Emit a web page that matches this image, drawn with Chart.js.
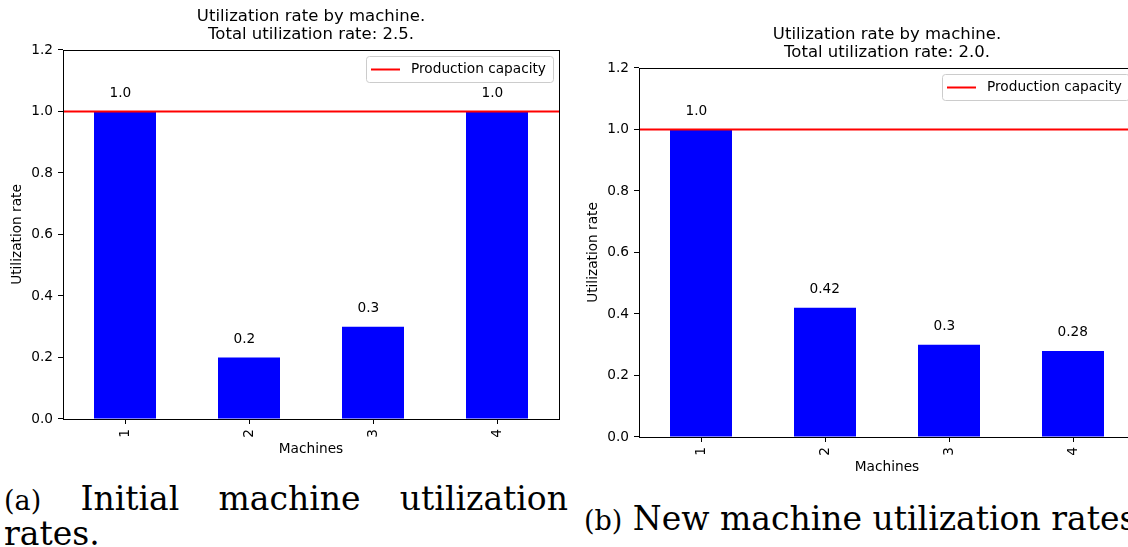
<!DOCTYPE html>
<html>
  <head>
    <title>Machine utilization rates</title>
    <script src="https://cdn.jsdelivr.net/npm/chart.js"></script>
    <style>
      html, body { margin: 0; padding: 0; background: #fff; overflow: hidden; width: 1128px; height: 547px; }
      canvas { position: absolute; }
      #chartA { left: 0; top: 0; }
      #chartB { left: 576px; top: 18px; }
      .caption { position: absolute; font-family: 'DejaVu Serif', serif; font-size: 33px; line-height: 33px; color: #000; }
      .caption span { font-size: 27px; }
      #capA { left: 4px; top: 482px; width: 564px; text-align: justify; }
      #capB { left: 584px; top: 502px; white-space: nowrap; }
    </style>
  </head>
  <body>
    <canvas id="chartA" width="570" height="460"></canvas>
    <canvas id="chartB" width="570" height="460"></canvas>
    <div id="capA" class="caption"><span>(a)</span> Initial machine utilization rates.</div>
    <div id="capB" class="caption"><span>(b)</span> New machine utilization rates</div>

    <script>
      // data
      var machines = ['1', '2', '3', '4'];
      var initialRates = [1.0, 0.2, 0.3, 1.0];
      var newRates = [1.0, 0.42, 0.3, 0.28];
      var capacity = 1.0;
      var yTicks = [0.0, 0.2, 0.4, 0.6, 0.8, 1.0, 1.2];
      var titleA = ['Utilization rate by machine.', 'Total utilization rate: 2.5.'];
      var titleB = ['Utilization rate by machine.', 'Total utilization rate: 2.0.'];

      Chart.defaults.font.family = 'DejaVu Sans';
      Chart.defaults.font.size = 13.7;
      Chart.defaults.color = '#000';

      // value text above each bar
      var barLabels = {
        id: 'barLabels',
        afterDatasetsDraw: function (chart) {
          var ctx = chart.ctx;
          var y = chart.scales.y;
          var meta = chart.getDatasetMeta(1);
          var values = chart.data.datasets[1].data;
          ctx.save();
          ctx.font = '13.7px "DejaVu Sans"';
          ctx.fillStyle = '#000';
          ctx.textAlign = 'left';
          ctx.textBaseline = 'alphabetic';
          meta.data.forEach(function (bar, i) {
            var v = values[i];
            var txt = Number.isInteger(v) ? v.toFixed(1) : String(v);
            ctx.fillText(txt, bar.x - bar.width / 4, y.getPixelForValue(v + 0.047));
          });
          ctx.restore();
        }
      };

      // axes frame + boxed legend in the upper right corner
      var frameAndLegend = {
        id: 'frameAndLegend',
        afterDraw: function (chart) {
          var ctx = chart.ctx;
          var a = chart.chartArea;
          ctx.save();
          ctx.strokeStyle = '#000';
          ctx.lineWidth = 1;
          ctx.strokeRect(Math.round(a.left) + 0.5, Math.round(a.top) + 0.5,
            Math.round(a.right - a.left), Math.round(a.bottom - a.top));

          var ds = chart.data.datasets[0];
          ctx.font = '13.7px "DejaVu Sans"';
          var tw = ctx.measureText(ds.label).width;
          var right = Math.round(a.right) - 6;
          var top = Math.round(a.top) + 6;
          var h = 26;
          var left = Math.round(right - tw - 52);
          ctx.fillStyle = 'rgba(255,255,255,0.8)';
          ctx.strokeStyle = '#cccccc';
          ctx.beginPath();
          ctx.roundRect(left + 0.5, top + 0.5, right - left, h, 3);
          ctx.fill();
          ctx.stroke();

          ctx.strokeStyle = ds.borderColor;
          ctx.lineWidth = 2;
          ctx.beginPath();
          ctx.moveTo(left + 5, top + 13.5);
          ctx.lineTo(left + 34, top + 13.5);
          ctx.stroke();

          ctx.fillStyle = '#000';
          ctx.textAlign = 'left';
          ctx.textBaseline = 'middle';
          ctx.fillText(ds.label, left + 45, top + 13.5);
          ctx.restore();
        }
      };

      function makeChart(id, rates, title) {
        var tickGrid = {
          drawOnChartArea: false,
          drawTicks: true,
          tickLength: 5,
          tickColor: '#000',
          tickWidth: 1
        };
        return new Chart(document.getElementById(id), {
          type: 'bar',
          data: {
            labels: machines,
            datasets: [
              {
                type: 'line',
                label: 'Production capacity',
                data: [{ x: 0, y: capacity }, { x: 1, y: capacity }],
                xAxisID: 'x2',
                borderColor: '#ff0000',
                borderWidth: 2,
                pointRadius: 0,
                order: 0
              },
              {
                label: 'Utilization rate',
                data: rates,
                backgroundColor: '#0000ff',
                grouped: false,
                barPercentage: 0.5,
                categoryPercentage: 1.0,
                order: 1
              }
            ]
          },
          options: {
            responsive: false,
            animation: false,
            events: [],
            layout: { padding: { left: 0, right: 11, top: 0, bottom: 0 } },
            plugins: {
              legend: { display: false },
              tooltip: { enabled: false },
              title: {
                display: true,
                text: title,
                fullSize: false,
                color: '#000',
                font: { size: 16.5, lineHeight: 1.12, weight: 'normal' },
                padding: { top: 7, bottom: 6 }
              }
            },
            scales: {
              x: {
                type: 'category',
                offset: true,
                grid: Object.assign({ offset: false }, tickGrid),
                border: { display: false },
                ticks: { minRotation: 90, maxRotation: 90, padding: 5, autoSkip: false },
                title: { display: true, text: 'Machines', padding: { top: 0, bottom: 2.8 } },
                afterFit: function (s) { s.height = 41; }
              },
              x2: { type: 'linear', display: false, min: 0, max: 1, offset: false },
              y: {
                min: 0,
                max: 1.2,
                grid: tickGrid,
                border: { display: false },
                ticks: {
                  padding: 5,
                  callback: function (v) { return Number(v).toFixed(1); }
                },
                afterBuildTicks: function (s) {
                  s.ticks = yTicks.map(function (v) { return { value: v }; });
                },
                title: { display: true, text: 'Utilization rate', padding: { top: 8.8, bottom: 0 } },
                afterFit: function (s) { s.width = 63; }
              }
            }
          },
          plugins: [barLabels, frameAndLegend]
        });
      }

      makeChart('chartA', initialRates, titleA);
      makeChart('chartB', newRates, titleB);
    </script>
  </body>
</html>
